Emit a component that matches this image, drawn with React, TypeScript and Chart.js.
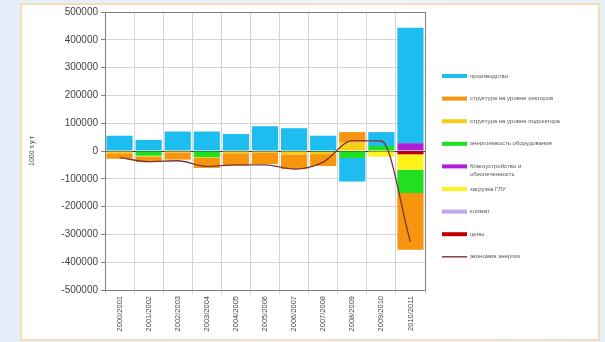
import React, { useEffect, useRef } from "react";
import { Chart, registerables } from "chart.js";

Chart.register(...registerables);

const categories = [
  "2000/2001", "2001/2002", "2002/2003", "2003/2004", "2004/2005", "2005/2006",
  "2006/2007", "2007/2008", "2008/2009", "2009/2010", "2010/2011",
];

const production = [55000, 40000, 70000, 70000, 61000, 89000, 82000, 55000, -85000, 50000, 415000];
const sectorStructure = [-20000, -20000, -26000, -36000, -45000, -42000, -53000, -43000, 38000, 0, -204000];
const subsectorStructure = [-8000, -3000, -5000, -3000, -8000, -5000, -12000, -8000, 30000, 0, 0];
const equipmentIntensity = [0, -17000, 0, -22000, 0, 0, 0, -3000, -25000, 18000, -84000];
const comfort = [0, 0, 0, 0, 0, 0, 0, 0, 0, 0, 28000];
const loading = [0, 0, 0, 0, 0, 0, 0, 0, 0, -20000, -55000];
const climate = [0, 0, 0, 0, 0, 0, 0, 0, 0, 0, 0];
const prices = [0, 0, 0, 0, 0, 0, 0, 0, 0, 0, -12000];
const savings = [-24000, -38000, -35000, -55000, -50000, -50000, -65000, -40000, 37000, 36000, -327000];

const yTicks = [-500000, -400000, -300000, -200000, -100000, 0, 100000, 200000, 300000, 400000, 500000];

const barSeries = [
  { label: "производство", data: production, color: "#1dbdef" },
  { label: "структура на уровне секторов", data: sectorStructure, color: "#f7950f" },
  { label: "структура на уровне подсектора", data: subsectorStructure, color: "#f3cf1a" },
  { label: "энергоемкость оборудования", data: equipmentIntensity, color: "#22e020" },
  { label: "благоустройство и\nобеспеченность", data: comfort, color: "#b11fd6" },
  { label: "загрузка ГЛУ", data: loading, color: "#fff21a" },
  { label: "климат", data: climate, color: "#c3a6ea" },
  { label: "цены", data: prices, color: "#c00000" },
];
const lineSeries = { label: "экономия энергии", data: savings, color: "#7e3535" };

const FONT = "'Liberation Sans', Arial, sans-serif";

const frameAndLegend = {
  id: "frameAndLegend",
  afterDatasetsDraw(chart: any) {
    const { ctx, chartArea } = chart;
    ctx.save();
    ctx.strokeStyle = "#7f7f7f";
    ctx.lineWidth = 1;
    ctx.strokeRect(
      Math.round(chartArea.left) + 0.5,
      Math.round(chartArea.top) + 0.5,
      Math.round(chartArea.right - chartArea.left),
      Math.round(chartArea.bottom - chartArea.top)
    );
    ctx.restore();
  },
  afterDraw(chart: any) {
    const ctx = chart.ctx;
    ctx.save();
    ctx.font = `6px ${FONT}`;
    ctx.textBaseline = "middle";
    const items = [...barSeries.map((s) => ({ ...s, line: false })), { ...lineSeries, line: true }];
    items.forEach((it, i) => {
      const y = 76 + i * 22.6;
      ctx.fillStyle = it.color;
      if (it.line) {
        ctx.fillRect(442, y - 0.7, 25, 1.4);
      } else {
        ctx.fillRect(442, y - 2, 25, 4);
      }
      ctx.fillStyle = "#555";
      const lines = it.label.split("\n");
      lines.forEach((ln, j) => ctx.fillText(ln, 470, y + j * 7.5));
    });
    ctx.restore();
  },
};

export default function App() {
  const ref = useRef<HTMLCanvasElement | null>(null);

  useEffect(() => {
    if (!ref.current) return;
    const datasets: any[] = [
      {
        type: "line",
        label: lineSeries.label,
        data: lineSeries.data,
        borderColor: lineSeries.color,
        borderWidth: 1.3,
        pointRadius: 0,
        cubicInterpolationMode: "monotone",
        fill: false,
        order: -1,
      },
      ...barSeries
        .slice()
        .reverse()
        .map((s) => ({
          type: "bar",
          label: s.label,
          data: s.data,
          backgroundColor: s.color,
          borderWidth: 0,
          categoryPercentage: 0.9,
          barPercentage: 1,
          order: 0,
        })),
    ];
    const chart = new Chart(ref.current, {
      type: "bar",
      data: { labels: categories, datasets },
      plugins: [frameAndLegend],
      options: {
        animation: false,
        responsive: false,
        maintainAspectRatio: false,
        layout: { padding: { left: 0, top: 12, right: 180, bottom: 0 } },
        plugins: { legend: { display: false }, tooltip: { enabled: false } },
        scales: {
          x: {
            stacked: true,
            grid: { color: "#d4d4d4", drawTicks: true, tickLength: 4, offset: true },
            border: { color: "#7f7f7f" },
            ticks: {
              minRotation: 90,
              maxRotation: 90,
              color: "#444",
              font: { family: FONT, size: 7.5 },
              padding: 2,
            },
            afterFit(scale: any) {
              scale.height = 52;
            },
          },
          y: {
            stacked: true,
            min: -500000,
            max: 500000,
            afterBuildTicks(scale: any) {
              scale.ticks = yTicks.map((v) => ({ value: v }));
            },
            grid: {
              color: (c: any) => (c.tick && c.tick.value === 0 ? "#3a3a3a" : "#d4d4d4"),
              tickColor: "#7f7f7f",
              tickLength: 4,
            },
            border: { color: "#7f7f7f" },
            ticks: {
              color: "#444",
              font: { family: FONT, size: 10 },
              padding: 3,
              callback: (v: any) => String(v),
            },
            title: {
              display: true,
              text: "1000 т.у.т",
              color: "#444",
              font: { family: FONT, size: 7 },
              padding: { top: 28, bottom: 0 },
            },
            afterFit(scale: any) {
              scale.width = 105;
            },
          },
        },
      },
    });
    return () => chart.destroy();
  }, []);

  return (
    <div
      style={{
        position: "fixed",
        left: 0,
        top: 0,
        width: 605,
        height: 342,
        background: "linear-gradient(90deg, #e4eef9 0%, #eef4fb 60%, #e8f0f9 100%)",
        overflow: "hidden",
      }}
    >
      <div
        style={{
          position: "absolute",
          left: 20,
          top: 3,
          width: 576,
          height: 334,
          background: "#fff",
          border: "2px solid #f4ddb8",
        }}
      />
      <canvas
        ref={ref}
        width={605}
        height={342}
        style={{ position: "absolute", left: 0, top: 0, width: 605, height: 342 }}
      />
    </div>
  );
}
